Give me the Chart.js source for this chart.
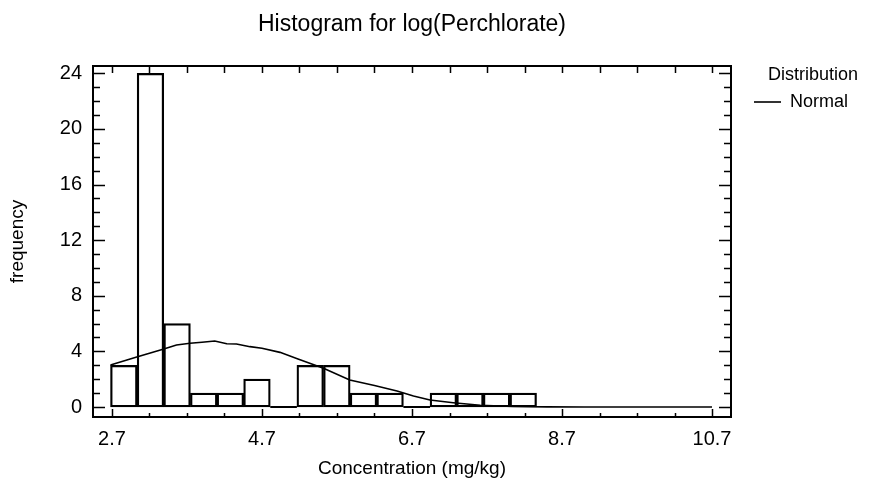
<!DOCTYPE html>
<html>
<head>
<meta charset="utf-8">
<script src="https://cdn.jsdelivr.net/npm/chart.js@4.4.0/dist/chart.umd.min.js"></script>
<style>
  html, body { margin: 0; padding: 0; background: #ffffff; }
  #wrap { width: 891px; height: 489px; position: relative; }
</style>
</head>
<body>
<div id="wrap"><canvas id="chart" width="891" height="489"></canvas></div>
<script>
// ---- data ----
const binCenters = [2.858, 3.213, 3.568, 3.923, 4.278, 4.633, 4.988, 5.343, 5.698, 6.053, 6.408, 6.763, 7.118, 7.473, 7.828, 8.183];
const binCounts  = [3, 24, 6, 1, 1, 2, 0, 3, 3, 1, 1, 0, 1, 1, 1, 1];

const normalX = [2.68, 3.03, 3.38, 3.56, 3.74, 3.90, 4.07, 4.23, 4.36, 4.54, 4.70, 4.94, 5.18, 5.52, 5.87, 6.20, 6.50, 6.72, 6.94, 7.25, 7.61, 8.05, 8.50, 9.00, 10.70];
const normalY = [3.02, 3.60, 4.15, 4.46, 4.58, 4.66, 4.75, 4.55, 4.53, 4.34, 4.22, 3.93, 3.45, 2.78, 1.94, 1.55, 1.15, 0.79, 0.50, 0.31, 0.12, 0.03, 0.01, 0.00, 0.00];

const xTickValues = [2.7, 4.7, 6.7, 8.7, 10.7];
const yTickValues = [0, 4, 8, 12, 16, 20, 24];
const xMinorStep = 0.5;
const yMinorStep = 1;

const titleText = 'Histogram for log(Perchlorate)';
const xTitle = 'Concentration (mg/kg)';
const yTitle = 'frequency';
const legendTitle = 'Distribution';
const seriesName = 'Normal';

// ---- chart ----
const FONT = 'Arial, "Liberation Sans", sans-serif';
const fontTitle = { family: FONT, size: 23, weight: 'normal' };
const fontTicks = { family: FONT, size: 20, weight: 'normal' };
const fontAxis  = { family: FONT, size: 19, weight: 'normal' };
const LEG_FS = 18;
const fontLegend = { family: FONT, size: LEG_FS, weight: 'normal' };

// legend geometry (layout only)
const LEG_PAD = 23, LEG_LINE = 27, PLOT_RIGHT = 731;
const mctx = document.createElement('canvas').getContext('2d');
mctx.font = LEG_FS + 'px ' + FONT;
const legendW = LEG_PAD + LEG_LINE + LEG_FS / 2 + mctx.measureText(seriesName).width + 10;
const padRight = 891 - PLOT_RIGHT - legendW;

const framePlugin = {
  id: 'frameTicks',
  afterDatasetsDraw(chart) {
    const { ctx } = chart;
    ctx.save();
    ctx.strokeStyle = '#000';
    const meta = chart.getDatasetMeta(0);
    ctx.lineWidth = 2;
    ctx.beginPath();
    meta.data.forEach((bar, i) => {
      if (binCounts[i] === 0) {
        const p = bar.getProps(['x', 'base', 'width'], true);
        ctx.moveTo(p.x - p.width / 2, p.base);
        ctx.lineTo(p.x + p.width / 2, p.base);
      }
    });
    ctx.stroke();
    ctx.restore();
  },
  afterDraw(chart) {
    const { ctx, chartArea: a, scales: { x, y } } = chart;
    ctx.save();
    ctx.strokeStyle = '#000';
    ctx.lineWidth = 2;
    ctx.strokeRect(a.left, a.top, a.right - a.left, a.bottom - a.top);
    ctx.lineWidth = 1.5;
    ctx.beginPath();
    const x0 = xTickValues[0], x1 = xTickValues[xTickValues.length - 1];
    for (let k = 0; x0 + k * xMinorStep <= x1 + 1e-9; k++) {
      const v = x0 + k * xMinorStep;
      const px = Math.round(x.getPixelForValue(v)) + 0.5;
      const major = xTickValues.some(t => Math.abs(t - v) < 1e-6);
      ctx.moveTo(px, a.bottom);
      ctx.lineTo(px, a.bottom - (major ? 8 : 4));
      ctx.moveTo(px, a.top);
      ctx.lineTo(px, a.top + 7);
    }
    const y0 = yTickValues[0], y1 = yTickValues[yTickValues.length - 1];
    for (let k = 0; y0 + k * yMinorStep <= y1 + 1e-9; k++) {
      const v = y0 + k * yMinorStep;
      const py = Math.round(y.getPixelForValue(v)) + 0.5;
      const major = yTickValues.some(t => Math.abs(t - v) < 1e-6);
      const len = major ? 12 : 7;
      ctx.moveTo(a.left, py);
      ctx.lineTo(a.left + len, py);
      ctx.moveTo(a.right, py);
      ctx.lineTo(a.right - len, py);
    }
    ctx.stroke();
    ctx.restore();
  }
};

new Chart(document.getElementById('chart'), {
  type: 'bar',
  data: {
    datasets: [
      {
        type: 'bar',
        label: 'Histogram',
        data: binCenters.map((c, i) => ({ x: c, y: binCounts[i] })),
        backgroundColor: 'rgba(255,255,255,0)',
        borderColor: '#000',
        borderWidth: 1.6,
        borderSkipped: false,
        barPercentage: 1.0,
        categoryPercentage: 1.0,
        order: 2
      },
      {
        type: 'line',
        label: seriesName,
        data: normalX.map((v, i) => ({ x: v, y: normalY[i] })),
        borderColor: '#000',
        backgroundColor: '#000',
        borderWidth: 1.6,
        pointRadius: 0,
        tension: 0,
        fill: false,
        order: 1
      }
    ]
  },
  options: {
    responsive: false,
    animation: false,
    devicePixelRatio: 1,
    layout: { padding: { left: 0, right: padRight, top: 0, bottom: 0 } },
    plugins: {
      title: {
        display: true,
        text: titleText,
        color: '#000',
        font: fontTitle,
        fullSize: false,
        padding: { top: 10.7, bottom: 27.7 }
      },
      legend: {
        display: true,
        position: 'right',
        align: 'start',
        fullSize: false,
        title: {
          display: true,
          text: legendTitle,
          color: '#000',
          font: fontLegend,
          position: 'end',
          padding: { top: 0, bottom: -17.6 }
        },
        labels: {
          color: '#000',
          font: fontLegend,
          usePointStyle: true,
          pointStyle: 'line',
          pointStyleWidth: LEG_LINE,
          padding: LEG_PAD,
          filter: item => item.datasetIndex === 1
        }
      },
      tooltip: { enabled: false }
    },
    scales: {
      x: {
        type: 'linear',
        position: 'bottom',
        offset: false,
        min: 2.447,
        max: 10.953,
        afterBuildTicks: s => { s.ticks = xTickValues.map(v => ({ value: v })); },
        afterFit: s => { s.height = 72; },
        grid: { display: false, drawTicks: false },
        border: { display: false },
        ticks: {
          color: '#000',
          font: fontTicks,
          padding: 10,
          maxRotation: 0,
          autoSkip: false,
          callback: v => Number(v).toFixed(1)
        },
        title: {
          display: true,
          text: xTitle,
          color: '#000',
          font: fontAxis,
          padding: { top: 0, bottom: 8.6 }
        }
      },
      y: {
        type: 'linear',
        position: 'left',
        min: -0.72,
        max: 24.53,
        afterBuildTicks: s => { s.ticks = yTickValues.map(v => ({ value: v })); },
        afterFit: s => { s.width = 93; },
        grid: { display: false, drawTicks: false },
        border: { display: false },
        ticks: {
          color: '#000',
          font: fontTicks,
          padding: 11,
          autoSkip: false,
          callback: v => String(v)
        },
        title: {
          display: true,
          text: yTitle,
          color: '#000',
          font: fontAxis,
          padding: { top: 6.6, bottom: 0 }
        }
      }
    }
  },
  plugins: [framePlugin]
});
</script>
</body>
</html>
